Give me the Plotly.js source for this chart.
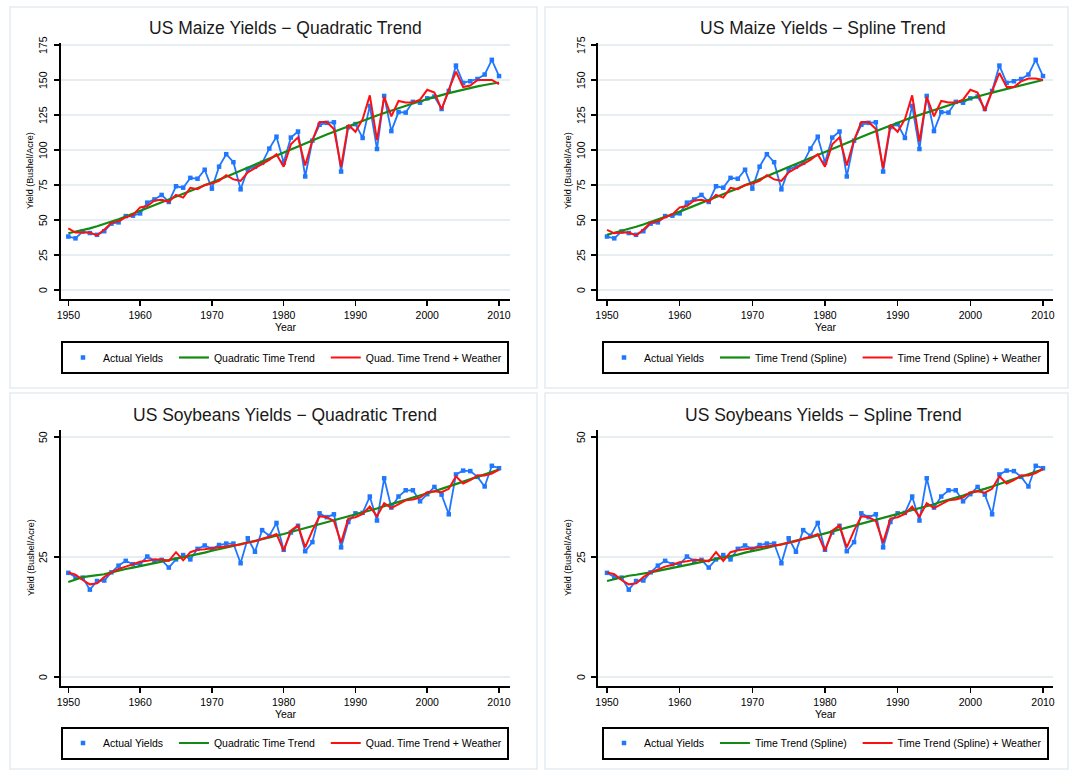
<!DOCTYPE html>
<html>
<head>
<meta charset="utf-8">
<script src="https://cdn.plot.ly/plotly-3.0.1.min.js"></script>
<style>
html,body{margin:0;padding:0;background:#fff;}
#chart{width:1072px;height:773px;}
</style>
</head>
<body>
<div id="chart"></div>
<script>
// ---------- DATA ----------
const years = [1950,1951,1952,1953,1954,1955,1956,1957,1958,1959,1960,1961,1962,1963,1964,1965,1966,1967,1968,1969,1970,1971,1972,1973,1974,1975,1976,1977,1978,1979,1980,1981,1982,1983,1984,1985,1986,1987,1988,1989,1990,1991,1992,1993,1994,1995,1996,1997,1998,1999,2000,2001,2002,2003,2004,2005,2006,2007,2008,2009,2010];

const maizeActual = [38.2,36.9,41.8,40.7,39.4,42.0,47.4,48.3,52.8,53.1,54.7,62.4,64.7,67.9,62.9,74.1,73.1,80.1,79.5,85.9,72.4,88.1,97.0,91.3,71.9,86.4,88.0,90.8,101.0,109.5,91.0,108.9,113.2,81.1,106.7,118.0,119.4,119.8,84.6,116.3,118.5,108.6,131.5,100.7,138.6,113.5,127.1,126.7,134.4,133.8,136.9,138.2,129.3,142.2,160.3,147.9,149.1,150.7,153.9,164.4,152.8];

const maizeQuadTrend = [40.5,41.5,42.5,44.0,45.5,47.0,48.5,50.5,52.5,54.5,56.5,58.5,60.5,62.5,64.5,66.5,68.5,70.5,72.5,74.5,76.5,78.7,80.9,83.1,85.3,87.5,89.7,91.9,94.1,96.3,98.5,100.6,102.7,104.8,106.9,109.0,111.0,113.0,115.0,117.0,119.0,120.9,122.8,124.6,126.4,128.2,129.9,131.6,133.2,134.8,136.4,137.8,139.2,140.6,141.9,143.1,144.3,145.4,146.4,147.3,148.2];

const maizeQuadWeather = [44,41,41,41,39,43,48,49,52,53.5,59,60,64,64.5,63,68,66,73,72,75,76,78,82,79,78,84,87,90,93,97,88,104,109,89,107,120,120,115,88,118,113,122,139,107,138,124,135,134,134,136,143,141,129,143,156,145,146,150,150,150,147];

const maizeSplineTrend = [39.5,40.8,42.2,43.7,45.2,46.8,48.5,50.3,52.2,54.1,56.0,58.0,60.0,62.1,64.2,66.3,68.4,70.5,72.6,74.7,76.8,79.0,81.2,83.4,85.6,87.8,90.0,92.2,94.4,96.6,98.8,100.9,103.0,105.1,107.2,109.3,111.4,113.5,115.5,117.5,119.5,121.4,123.3,125.1,126.9,128.6,130.3,132.0,133.6,135.2,136.8,138.2,139.6,141.0,142.3,143.6,144.9,146.2,147.5,148.8,150.0];

const maizeSplineWeather = [43,40.5,41,41,39,43,48,49,52,54,59,60,64,64.5,63,68,66,73,72,75,76,78,82,79,78,84,87,90,93,97,88,104,109,89,107,120,120,115,87,118,113,122,139,106,138,124,135,134,134,136,143,141,128,142,155,145,145,149,151,151,150];

const soyActual = [21.7,20.8,20.7,18.2,20.0,20.1,21.8,23.2,24.2,23.5,23.5,25.1,24.2,24.4,22.8,24.5,25.4,24.5,26.7,27.4,26.7,27.5,27.8,27.8,23.7,28.9,26.1,30.6,29.4,32.1,26.5,30.1,31.5,26.2,28.1,34.1,33.3,33.9,27.0,32.3,34.1,34.2,37.6,32.6,41.4,35.3,37.6,38.9,38.9,36.6,38.1,39.6,38.0,33.9,42.2,43.0,42.9,41.7,39.7,44.0,43.5];

const soyQuadTrend = [19.8,20.3,20.8,21.0,21.2,21.4,21.8,22.2,22.5,22.8,23.1,23.4,23.7,24.0,24.3,24.6,24.9,25.3,25.6,25.9,26.3,26.6,27.0,27.3,27.7,28.0,28.4,28.7,29.1,29.4,29.8,30.2,30.6,31.0,31.4,31.8,32.2,32.6,33.0,33.4,33.8,34.3,34.7,35.1,35.6,36.0,36.5,36.9,37.4,37.8,38.3,38.7,39.2,39.7,40.2,40.7,41.2,41.7,42.2,42.7,43.2];

const soyQuadWeather = [21.8,21.3,20.2,19.3,19.5,20.8,21.8,22.5,23.0,23.5,24.0,24.2,24.5,24.5,24.2,26.0,24.3,26.0,26.5,26.6,26.8,27.0,27.3,27.5,27.6,28.0,28.3,28.8,29.2,29.8,26.3,30.5,31.6,27.0,30.5,33.5,33.3,32.5,28.0,33.0,33.3,34.0,35.5,33.5,36.2,35.2,36.0,36.8,37.0,37.4,38.5,38.7,38.5,39.2,41.8,40.3,41.0,42.0,42.0,42.4,43.2];

const soySplineTrend = [20.0,20.4,20.8,21.1,21.3,21.5,21.8,22.1,22.4,22.7,23.0,23.3,23.6,23.9,24.2,24.5,24.8,25.2,25.5,25.9,26.2,26.6,26.9,27.3,27.6,28.0,28.4,28.7,29.1,29.5,29.9,30.3,30.7,31.1,31.5,31.9,32.3,32.7,33.1,33.5,33.9,34.3,34.7,35.2,35.6,36.0,36.5,36.9,37.4,37.8,38.3,38.7,39.2,39.7,40.2,40.7,41.2,41.7,42.2,42.7,43.3];

const soySplineWeather = [21.8,21.4,20.2,19.3,19.5,20.8,21.8,22.4,23.0,23.4,23.9,24.1,24.4,24.4,24.1,26.0,24.2,26.0,26.4,26.6,26.8,27.0,27.3,27.5,27.6,28.0,28.3,28.8,29.2,29.8,26.3,30.5,31.6,27.0,30.5,33.5,33.3,32.5,28.0,33.0,33.3,34.0,35.5,33.4,36.2,35.2,36.0,36.8,37.0,37.4,38.5,38.7,38.4,39.2,41.8,40.3,41.0,42.0,42.0,42.5,43.3];

const panelTitles = ["US Maize Yields \u2212 Quadratic Trend","US Maize Yields \u2212 Spline Trend","US Soybeans Yields \u2212 Quadratic Trend","US Soybeans Yields \u2212 Spline Trend"];
const legendNames = [
  ["Actual Yields","Quadratic Time Trend","Quad. Time Trend + Weather"],
  ["Actual Yields","Time Trend (Spline)","Time Trend (Spline) + Weather"],
  ["Actual Yields","Quadratic Time Trend","Quad. Time Trend + Weather"],
  ["Actual Yields","Time Trend (Spline)","Time Trend (Spline) + Weather"]
];
const yTitle = "Yield (Bushel/Acre)";
const xTitle = "Year";
const maizeTicks = [0,25,50,75,100,125,150,175];
const soyTicks = [0,25,50];
const yearTicks = [1950,1960,1970,1980,1990,2000,2010];

// ---------- LAYOUT HELPERS ----------
const W = 1072, H = 773;
const px = v => v / W;
const py = v => 1 - v / H;
const FONT = "Liberation Sans, Arial, sans-serif";
const BLUE = "#1f77ff", GREEN = "#138a13", RED = "#ff1010";
const PAD = "\u00a0\u00a0";

const panels = [
  {actual: maizeActual, trend: maizeQuadTrend, weather: maizeQuadWeather, xd:[61,510], yd:[299,43], xr:[1948.98,2011.53], yr:[-6.43,176.43], ticks: maizeTicks, title:[285,28], leg:[285,357.5], tickX:43, titleX:30},
  {actual: maizeActual, trend: maizeSplineTrend, weather: maizeSplineWeather, xd:[598,1053], yd:[299,43], xr:[1948.76,2011.38], yr:[-6.43,176.43], ticks: maizeTicks, title:[823,28], leg:[825.5,357.5], tickX:581, titleX:568},
  {actual: soyActual, trend: soyQuadTrend, weather: soyQuadWeather, xd:[61,510], yd:[686,430], xr:[1948.98,2011.53], yr:[-1.875,51.46], ticks: soyTicks, title:[285,415], leg:[285,743], tickX:43, titleX:31},
  {actual: soyActual, trend: soySplineTrend, weather: soySplineWeather, xd:[598,1053], yd:[686,430], xr:[1948.76,2011.38], yr:[-1.875,51.46], ticks: soyTicks, title:[823,415], leg:[825.5,743], tickX:581, titleX:568}
];

const traces = [];
const layout = {
  width: W, height: H,
  margin: {l:0, r:0, t:0, b:0},
  paper_bgcolor: "#ffffff",
  plot_bgcolor: "#ffffff",
  font: {family: FONT, color: "#000"},
  annotations: [],
  shapes: []
};

const borders = [[10,7,537,388],[545,7,1068,388],[10,393,537,769],[545,393,1068,769]];
borders.forEach(b => layout.shapes.push({type:"rect", xref:"paper", yref:"paper", x0:px(b[0]), x1:px(b[2]), y0:py(b[3]), y1:py(b[1]), line:{color:"#e3ebef", width:1.5}, fillcolor:"rgba(0,0,0,0)", layer:"below"}));

panels.forEach((p, i) => {
  const n = i + 1;
  const xa = n === 1 ? "x" : "x" + n;
  const ya = n === 1 ? "y" : "y" + n;
  const lg = n === 1 ? "legend" : "legend" + n;
  const names = legendNames[i];

  traces.push({x: years, y: p.actual, xaxis: xa, yaxis: ya, mode: "lines+markers", line: {color: BLUE, width: 1.8}, marker: {symbol: "square", size: 4.5, color: BLUE}, showlegend: false, hoverinfo: "skip"});
  traces.push({x: years, y: p.trend, xaxis: xa, yaxis: ya, mode: "lines", line: {color: GREEN, width: 2.2}, name: names[1] + PAD, legend: lg, legendrank: 2});
  traces.push({x: years, y: p.weather, xaxis: xa, yaxis: ya, mode: "lines", line: {color: RED, width: 2}, name: names[2], legend: lg, legendrank: 3});
  // legend entry for actual yields (marker only, as in the reference legend)
  traces.push({x: [null], y: [null], xaxis: xa, yaxis: ya, mode: "markers", marker: {symbol: "square", size: 4.5, color: BLUE}, name: names[0] + PAD, legend: lg, legendrank: 1});

  const xKey = n === 1 ? "xaxis" : "xaxis" + n;
  const yKey = n === 1 ? "yaxis" : "yaxis" + n;
  layout[xKey] = {
    domain: [px(p.xd[0]), px(p.xd[1])], range: p.xr, anchor: ya,
    tickvals: yearTicks, ticks: "outside", ticklen: 5, tickwidth: 1.5, tickcolor: "#000",
    showline: true, linecolor: "#000", linewidth: 2, showgrid: false, zeroline: false,
    tickfont: {size: 10.5, family: FONT, color: "#000"},
    title: {text: xTitle, font: {size: 10.5, family: FONT, color: "#000"}, standoff: 1}
  };
  layout[yKey] = {
    domain: [py(p.yd[0]), py(p.yd[1])], range: p.yr, anchor: xa,
    tickvals: p.ticks, ticks: "outside", ticklen: 5, tickwidth: 1.5, tickcolor: "#000",
    showticklabels: false,
    showline: true, linecolor: "#000", linewidth: 2,
    showgrid: true, gridcolor: "#e6eef1", gridwidth: 1.5, zeroline: false
  };
  // vertical tick labels (Stata style), positioned through the y scale
  p.ticks.forEach(t => layout.annotations.push({
    text: String(t), xref: "paper", yref: ya, x: px(p.tickX), y: t,
    xanchor: "center", yanchor: "middle", textangle: -90, showarrow: false,
    font: {size: 10.5, family: FONT, color: "#000"}
  }));
  layout.annotations.push({
    text: yTitle, xref: "paper", yref: "paper", x: px(p.titleX), y: py((p.yd[0] + p.yd[1]) / 2),
    xanchor: "center", yanchor: "middle", textangle: -90, showarrow: false,
    font: {size: 9, family: FONT, color: "#000"}
  });
  layout[lg] = {
    orientation: "h", x: px(p.leg[0]), y: py(p.leg[1]), xanchor: "center", yanchor: "middle",
    xref: "paper", yref: "paper",
    bordercolor: "#000", borderwidth: 2, bgcolor: "#fff",
    font: {size: 10.5, family: FONT, color: "#000"},
    traceorder: "normal", itemwidth: 30
  };
  layout.annotations.push({
    text: panelTitles[i], xref: "paper", yref: "paper", x: px(p.title[0]), y: py(p.title[1]),
    xanchor: "center", yanchor: "middle", showarrow: false,
    font: {size: 17.5, family: FONT, color: "#1a1a1a"}
  });
});

Plotly.newPlot("chart", traces, layout, {displayModeBar: false, staticPlot: true});
</script>
</body>
</html>
